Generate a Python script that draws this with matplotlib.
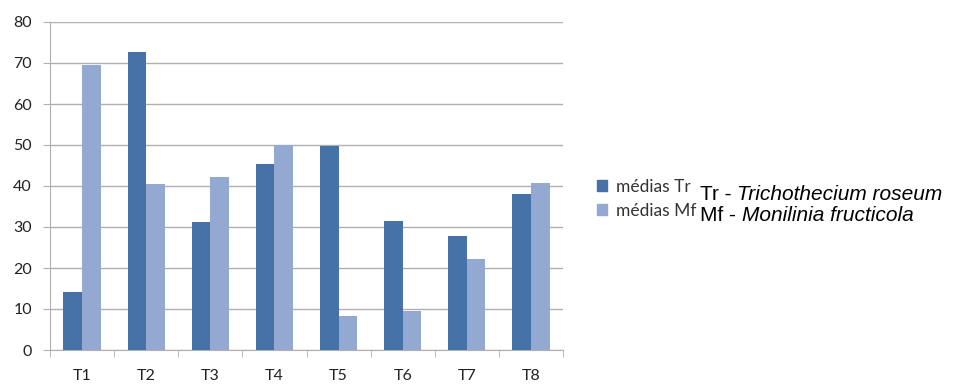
import matplotlib
matplotlib.use('Agg')
import matplotlib.pyplot as plt
import numpy as np
from matplotlib.patches import Patch

categories = ['T1', 'T2', 'T3', 'T4', 'T5', 'T6', 'T7', 'T8']
medias_tr = [14.1, 72.8, 31.1, 45.3, 49.8, 31.5, 27.7, 38.0]
medias_mf = [69.4, 40.5, 42.2, 50.1, 8.3, 9.5, 22.2, 40.7]
series_labels = ['médias Tr', 'médias Mf']
species = [('Tr - ', 'Trichothecium roseum'), ('Mf - ', 'Monilinia fructicola')]

c_tr = '#4672A8'
c_mf = '#94A9D1'
grid_c = '#b0b0b0'

fig = plt.figure(figsize=(9.56, 3.87), dpi=100)
ax = fig.add_axes([50 / 956, 37 / 387, 513 / 956, 328 / 387])

x = np.arange(len(categories))
w = 0.29
ax.bar(x - w / 2, medias_tr, w, color=c_tr, zorder=3)
ax.bar(x + w / 2, medias_mf, w, color=c_mf, zorder=3)

ax.set_xlim(-0.5, len(categories) - 0.5)
ax.set_ylim(0, 80)
ax.set_yticks(range(0, 81, 10))
ax.yaxis.grid(True, color=grid_c, linewidth=1, zorder=0)
ax.set_axisbelow(True)

ax.set_xticks(x)
ax.set_xticklabels(categories)
ax.set_xticks(np.arange(-0.5, len(categories)), minor=True)
ax.tick_params(axis='x', which='major', length=0, pad=14)
ax.tick_params(axis='x', which='minor', length=5, color=grid_c, direction='out')
ax.tick_params(axis='y', length=5, color=grid_c, direction='out', pad=8)
for lab in ax.get_xticklabels() + ax.get_yticklabels():
    lab.set_fontfamily('Lato')
    lab.set_fontsize(11.5)
    lab.set_color('#222222')

for s in ['top', 'right']:
    ax.spines[s].set_visible(False)
for s in ['left', 'bottom']:
    ax.spines[s].set_color(grid_c)

handles = [Patch(color=c_tr), Patch(color=c_mf)]
leg = fig.legend(handles, series_labels, loc='center left',
                 bbox_to_anchor=(581 / 956, 1 - 199 / 387), frameon=False,
                 handlelength=0.6, handleheight=0.6, handletextpad=0.5,
                 labelspacing=0.45, prop={'family': 'Lato', 'size': 12.5})
for t in leg.get_texts():
    t.set_color('#333333')

ys = [200, 221]
for (plain, ital), yp in zip(species, ys):
    t1 = fig.text(700 / 956, 1 - yp / 387, plain, fontsize=15,
                  family='Liberation Sans', va='baseline', ha='left')
    fig.canvas.draw()
    bb = t1.get_window_extent()
    x2 = bb.x1 / fig.bbox.width
    fig.text(x2, 1 - yp / 387, ital, fontsize=15, family='Liberation Sans',
             style='italic', va='baseline', ha='left')

fig.savefig('out.png', dpi=100)
